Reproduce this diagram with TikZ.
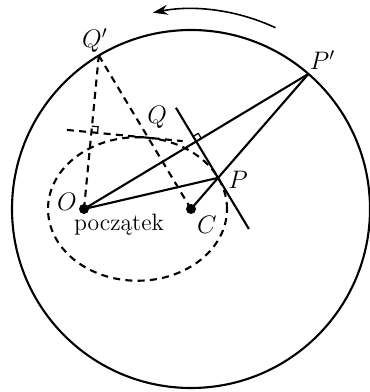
\documentclass[tikz,border=0pt]{standalone}
\usepackage{fontspec}
\usepackage{tikz}
\usetikzlibrary{arrows.meta,calc}

\begin{document}
\begin{tikzpicture}[
    x=0.02cm, y=0.02cm,
    solid_line/.style={line width=1.2pt},
    dash_line/.style={line width=1.2pt, dash pattern=on 4pt off 3pt},
    dot/.style={circle, fill, inner sep=0pt, minimum size=2mm},
    lbl/.style={font=\fontsize{14}{16}\selectfont},
    txt/.style={font=\fontsize{13.5}{15}\selectfont}
]
\useasboundingbox (0,0) rectangle (369,392);

% centre, origin and the big circle
\coordinate (C) at (191,183);
\coordinate (O) at (84,183);
\draw[solid_line] (C) circle[radius=179];

% point P' and its construction (solid)
\coordinate (Pp) at ($(C)+(49:179)$);
\coordinate (M) at ($(O)!0.5!(Pp)$);
\coordinate (Ma) at ($(M)!0.3!90:(Pp)$);
\coordinate (Mb) at ($(M)!0.78!-90:(Pp)$);
\coordinate (P) at (intersection of C--Pp and Ma--Mb);

\draw[solid_line] (O) -- (Pp);
\draw[solid_line] (O) -- (P);
\draw[solid_line] (C) -- (Pp);
\draw[solid_line] (Ma) -- (Mb);
\coordinate (m1) at ($(M)!0.045!(Pp)$);
\coordinate (m2) at ($(M)!0.045!90:(Pp)$);
\draw[line width=0.7pt] (m1) -- ($(m1)+(m2)-(M)$) -- (m2);

% point Q' and its construction (dashed)
\coordinate (Qp) at ($(C)+(121:179)$);
\coordinate (N) at ($(O)!0.5!(Qp)$);
\coordinate (Na) at ($(N)!0.32!90:(Qp)$);
\coordinate (Nb) at ($(N)!1.19!-90:(Qp)$);
\coordinate (Q) at (intersection of C--Qp and Na--Nb);

\draw[dash_line] (O) -- (Qp);
\draw[dash_line] (C) -- (Qp);
\draw[dash_line] (Na) -- (Nb);
\coordinate (n1) at ($(N)!0.08!(Qp)$);
\coordinate (n2) at ($(N)!0.08!-90:(Qp)$);
\draw[line width=0.7pt] (n1) -- ($(n1)+(n2)-(N)$) -- (n2);

% the ellipse with foci O and C
\draw[dash_line] ($(O)!0.5!(C)$) ellipse[x radius=89.5, y radius=71.75];

% rotation arrow
\coordinate (arrowstart) at ($(C)+(65:200)$);
\draw[line width=0.9pt, -{Stealth[length=3mm, width=2mm]}] (arrowstart) arc[start angle=65, end angle=101, radius=200];

% dots
\node[dot] (Odot) at (O) {};
\node[dot] (Cdot) at (C) {};

% labels
\node[lbl] (lQp) at ($(Qp)+(-4,15)$) {$Q'$};
\node[lbl] (lPp) at ($(Pp)+(14,14)$) {$P'$};
\node[lbl] (lQ) at ($(Q)+(9,20)$) {$Q$};
\node[lbl] (lP) at ($(P)+(20,-2)$) {$P$};
\node[lbl] (lO) at ($(O)+(-17,7)$) {$O$};
\node[lbl] (lC) at ($(C)+(16,-16)$) {$C$};
\node[txt] (lorigin) at ($(O)+(35,-16)$) {początek};

\end{tikzpicture}
\end{document}
